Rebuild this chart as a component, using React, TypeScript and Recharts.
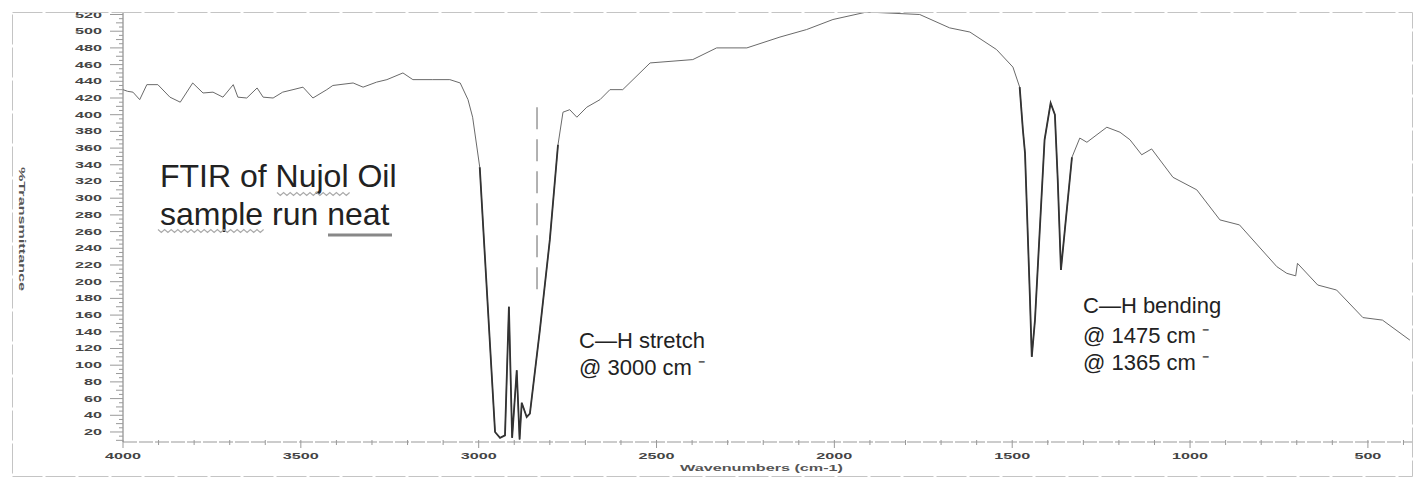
import React from 'react';
import { LineChart, Line, XAxis, YAxis, ReferenceLine } from 'recharts';

// wavenumber (cm-1) / transmittance pairs
const wavenumbers = [
  4000, 3987, 3972, 3953, 3933, 3902, 3868, 3839, 3804, 3775, 3747, 3719, 3690, 3677, 3652,
  3623, 3606, 3578, 3551, 3522, 3494, 3466, 3427, 3410, 3353, 3325, 3287, 3258, 3213, 3185,
  3129, 3081, 3052, 3030, 3017, 2997, 2954, 2940, 2926, 2915, 2906, 2893, 2885, 2879, 2865,
  2856, 2828, 2800, 2777, 2763, 2744, 2724, 2696, 2659, 2631, 2595, 2518, 2398, 2331, 2246,
  2153, 2078, 2004, 1909, 1760, 1676, 1619, 1544, 1498, 1479, 1470, 1464, 1450, 1445, 1436,
  1409, 1392, 1380, 1372, 1363, 1352, 1332, 1310, 1290, 1234, 1197, 1169, 1136, 1108, 1048,
  981, 916, 861, 756, 728, 703, 698, 641, 588, 514, 459, 382,
];
const transmittance = [
  430, 428, 427, 418, 436, 436, 421, 415, 438, 426, 427, 421, 436, 421, 420,
  432, 421, 420, 427, 430, 433, 420, 430, 435, 438, 433, 439, 442, 450, 442,
  442, 442, 438, 418, 397, 337, 20, 13, 16, 170, 13, 94, 11, 55, 38,
  42, 142, 250, 364, 403, 406, 397, 409, 418, 430, 430, 462, 466, 480, 480,
  493, 502, 514, 523, 520, 504, 499, 478, 457, 433, 382, 354, 178, 110, 154,
  370, 414, 400, 322, 214, 262, 349, 372, 367, 385, 379, 370, 352, 359, 325,
  310, 274, 268, 218, 210, 207, 222, 196, 190, 157, 154, 130,
];

// absorption bands whose steep flanks print darker on the scan
const bandRanges = [[2777, 2997], [1332, 1479]];

const yTickLabels = [20, 40, 60, 80, 100, 120, 140, 160, 180, 200, 220, 240, 260, 280, 300,
  320, 340, 360, 380, 400, 420, 440, 460, 480, 500, 520];
const xTickLabels = [4000, 3500, 3000, 2500, 2000, 1500, 1000, 500];

const inBand = (w: number) => bandRanges.some(([a, b]) => w >= a && w <= b);
const data = wavenumbers.map((w, i) => ({
  w,
  t: transmittance[i],
  band: inBand(w) ? transmittance[i] : null,
}));

const yTicks: number[] = [];
for (let v = 10; v <= 520; v += 5) yTicks.push(v);
const xTicks: number[] = [];
for (let v = 4000; v >= 400; v -= 100) xTicks.push(v);

const tickFont = '"Liberation Sans", Arial, sans-serif';

const YTick = (props: any) => {
  const { x, y, payload } = props;
  const v = payload.value;
  const major = yTickLabels.includes(v);
  return (
    <g>
      <line x1={x - (major ? 13 : v % 10 === 0 ? 7 : 4)} x2={x} y1={y} y2={y} stroke="#999" strokeWidth={1} />
      {major && (
        <text x={x - 21} y={y + 3} textAnchor="end" fontSize={9} fontFamily={tickFont} fill="#444"
          fontWeight="bold" textLength={String(v).length * 9} lengthAdjust="spacingAndGlyphs">
          {v}
        </text>
      )}
    </g>
  );
};

const XTick = (props: any) => {
  const { x, y, payload } = props;
  const v = payload.value;
  const major = xTickLabels.includes(v);
  return (
    <g>
      <line x1={x} x2={x} y1={y - 2} y2={y + (major ? 6 : 3)} stroke="#999" strokeWidth={1} />
      {major && (
        <text x={x} y={y + 17} textAnchor="middle" fontSize={9} fontFamily={tickFont} fill="#444"
          fontWeight="bold" textLength={String(v).length * 9} lengthAdjust="spacingAndGlyphs">
          {v}
        </text>
      )}
    </g>
  );
};

const wavy = (x1: number, x2: number, y: number) => {
  const pts: string[] = [];
  let up = true;
  for (let x = x1; x <= x2; x += 3.3) {
    pts.push(`${x.toFixed(1)},${up ? y - 1.5 : y + 1.5}`);
    up = !up;
  }
  return pts.join(' ');
};

export default function App() {
  return (
    <div style={{ position: 'absolute', left: 0, top: 0, width: 1414, height: 480, background: '#fff' }}>
      <LineChart width={1414} height={480} data={data} margin={{ top: 12, right: 2, bottom: 0, left: 0 }}>
        <XAxis
          type="number"
          dataKey="w"
          domain={[376, 4000]}
          reversed
          allowDataOverflow
          ticks={xTicks}
          interval={0}
          height={38}
          tickLine={false}
          tickSize={0}
          tickMargin={0}
          tick={<XTick />}
          axisLine={{ stroke: '#999', strokeDasharray: '14 2' }}
        />
        <YAxis
          type="number"
          domain={[8, 523]}
          allowDataOverflow
          ticks={yTicks}
          interval={0}
          width={123}
          tickLine={false}
          tickSize={0}
          tickMargin={0}
          tick={<YTick />}
          axisLine={{ stroke: '#777' }}
        />
        <ReferenceLine
          segment={[{ x: 2836, y: 409 }, { x: 2836, y: 186 }]}
          stroke="#999"
          strokeWidth={1.5}
          strokeDasharray="22 10"
        />
        <Line
          type="linear"
          dataKey="t"
          stroke="#6a6a6a"
          strokeWidth={1}
          dot={false}
          isAnimationActive={false}
        />
        <Line
          type="linear"
          dataKey="band"
          stroke="#333"
          strokeWidth={1.8}
          dot={false}
          connectNulls={false}
          isAnimationActive={false}
        />
      </LineChart>
      <svg width={1414} height={480} style={{ position: 'absolute', left: 0, top: 0, pointerEvents: 'none' }}
        fontFamily={tickFont}>
        <rect x={12.5} y={12.5} width={1400} height={464} fill="none" stroke="#c4c4c4" strokeDasharray="30 3" />
        <text x={19} y={167} fontSize={9} fontWeight="bold" fill="#555" transform="rotate(90 19 167)"
          textLength={124} lengthAdjust="spacingAndGlyphs">%Transmittance</text>
        <text x={680} y={471} fontSize={9} fontWeight="bold" fill="#555" textLength={163}
          lengthAdjust="spacingAndGlyphs">Wavenumbers (cm-1)</text>

        <text x={160} y={187} fontSize={32} fill="#222">FTIR of Nujol Oil</text>
        <text x={160} y={225} fontSize={32} fill="#222">sample run neat</text>
        <polyline points={wavy(277, 352, 194)} fill="none" stroke="#aaa" strokeWidth={1.2} />
        <polyline points={wavy(158, 265, 231)} fill="none" stroke="#aaa" strokeWidth={1.2} />
        <line x1={328} x2={392} y1={235} y2={235} stroke="#888" strokeWidth={3} />

        <text x={579} y={348} fontSize={22} fill="#222">C—H stretch</text>
        <text x={579} y={375} fontSize={22} fill="#222">@ 3000 cm ⁻</text>

        <text x={1083} y={313} fontSize={22} fill="#222">C—H bending</text>
        <text x={1083} y={343} fontSize={22} fill="#222">@ 1475 cm ⁻</text>
        <text x={1083} y={370} fontSize={22} fill="#222">@ 1365 cm ⁻</text>
      </svg>
    </div>
  );
}
